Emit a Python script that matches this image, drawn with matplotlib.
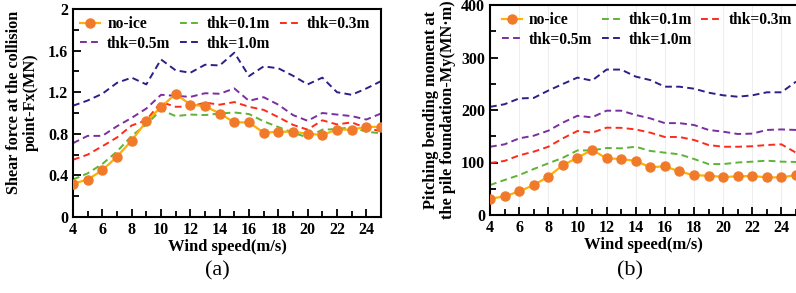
import matplotlib
matplotlib.use("Agg")
import matplotlib.pyplot as plt
from matplotlib.ticker import MultipleLocator

wind = list(range(4, 26))

# Panel (a): shear force Fx (MN)
fx_noice = [0.32, 0.36, 0.45, 0.58, 0.735, 0.92, 1.056, 1.185, 1.08, 1.066, 0.995, 0.91, 0.91,
            0.81, 0.82, 0.82, 0.80, 0.79, 0.84, 0.84, 0.867, 0.867]
fx_01 = [0.36, 0.42, 0.51, 0.63, 0.78, 0.89, 1.03, 0.97, 0.985, 0.98, 0.995, 1.005, 0.99,
         0.92, 0.865, 0.81, 0.765, 0.84, 0.845, 0.865, 0.82, 0.805]
fx_03 = [0.55, 0.60, 0.68, 0.765, 0.88, 0.93, 1.105, 1.06, 1.06, 1.10, 1.08, 1.105, 1.06,
         1.03, 0.96, 0.886, 0.84, 0.93, 0.89, 0.91, 0.855, 0.825]
fx_05 = [0.71, 0.78, 0.78, 0.873, 0.953, 1.043, 1.175, 1.165, 1.155, 1.19, 1.185, 1.236, 1.117,
         1.152, 1.08, 0.98, 0.925, 1.0, 0.985, 0.97, 0.937, 0.995]
fx_10 = [1.07, 1.12, 1.185, 1.29, 1.34, 1.275, 1.515, 1.41, 1.387, 1.464, 1.457, 1.58, 1.355,
         1.448, 1.43, 1.358, 1.275, 1.34, 1.20, 1.175, 1.236, 1.306]

# Panel (b): pitching bending moment My (MN·m)
my_noice = [31, 35.5, 45, 57, 73, 95, 109, 124, 108, 106.7, 103, 91, 92.7,
            83, 75.6, 75, 72.4, 73.6, 74.3, 71.7, 71.7, 76]
my_01 = [57, 66.7, 76, 87.6, 98.4, 109, 123, 123, 127.6, 127, 130, 122, 118.7,
         115.6, 106.7, 97, 97, 100, 101.6, 103.5, 101.6, 101]
my_03 = [99, 103, 113.6, 120.6, 130, 146, 160, 156.8, 166.3, 166, 163, 156.8, 148.6,
         148.6, 142.9, 133.3, 130, 130, 131, 133.3, 134.6, 118.7]
my_05 = [130, 134.6, 146, 151, 160.6, 176, 189, 186, 198.7, 198.7, 190.5, 184, 175,
         175, 171.4, 162, 158.7, 154.3, 155, 162, 163, 162]
my_10 = [206, 211, 222, 223, 237, 249.6, 261.7, 256, 277, 277, 263.6, 257, 244.4,
         244.4, 240.6, 233, 228, 225.3, 228, 233.7, 233.7, 254]

labels = ["no-ice", "thk=0.1m", "thk=0.3m", "thk=0.5m", "thk=1.0m"]
colors = ["#FFB000", "#5DB335", "#FF2A1A", "#7A2FA0", "#2B2088"]
marker_color = "#F07A2A"

serif = ["Liberation Serif", "DejaVu Serif"]
plt.rcParams["font.family"] = serif
plt.rcParams["font.weight"] = "bold"

fig = plt.figure(figsize=(7.96, 2.93), dpi=100)
axa = fig.add_axes([73/796, (293-217)/293, 308/796, 208/293])
axb = fig.add_axes([490/796, (293-215)/293, 306/796, 210/293])


def draw(ax, series, ylim, ymaj, ymin, ylabel, ytickfmt, ylsize, ylx, yly, legx):
    handles = []
    h, = ax.plot(wind, series[0], color=colors[0], lw=1.6, marker="o", ms=6.5,
                 mfc=marker_color, mec=marker_color, label=labels[0], zorder=5)
    handles.append(h)
    for s, c, l in zip(series[1:], colors[1:], labels[1:]):
        h, = ax.plot(wind, s, color=c, lw=1.4, ls=(0, (3.5, 2.2)), label=l)
        handles.append(h)
    ax.set_xlim(4, 25)
    ax.set_ylim(*ylim)
    ax.xaxis.set_major_locator(MultipleLocator(2))
    ax.xaxis.set_minor_locator(MultipleLocator(1))
    ax.yaxis.set_major_locator(MultipleLocator(ymaj))
    ax.yaxis.set_minor_locator(MultipleLocator(ymin))
    ax.tick_params(which="both", direction="in", width=1.3, labelsize=11.5,
                   top=False, right=False)
    ax.tick_params(which="major", length=6)
    ax.tick_params(which="minor", length=4)
    ax.yaxis.set_major_formatter(ytickfmt)
    for lab in ax.get_xticklabels() + ax.get_yticklabels():
        lab.set_fontweight("bold")
    for sp in ax.spines.values():
        sp.set_linewidth(1.5)
    ax.set_xlabel("Wind speed(m/s)", fontsize=12, fontweight="bold", labelpad=1)
    ax.set_ylabel(ylabel, fontsize=ylsize, fontweight="bold", linespacing=1.05)
    ax.yaxis.set_label_coords(ylx, yly)
    order = [0, 3, 1, 4, 2]
    ax.legend([handles[i] for i in order], [labels[i] for i in order],
              ncol=3, loc="upper left", frameon=False,
              prop={"weight": "bold", "size": 11.2, "family": serif},
              handlelength=1.3, handletextpad=0.45, columnspacing=0.6,
              labelspacing=0.25, borderaxespad=0.0, borderpad=0.45,
              bbox_to_anchor=(legx, 1.0))


def fmt_a(v, pos):
    if abs(v) < 1e-9:
        return "0"
    if abs(v - round(v)) < 1e-9:
        return "%d" % round(v)
    return "%.1f" % v


def fmt_b(v, pos):
    return "%d" % round(v)


draw(axa, [fx_noice, fx_01, fx_03, fx_05, fx_10], (0, 2), 0.4, 0.2,
     "Shear force at the collision\npoint-Fx(MN)", plt.FuncFormatter(fmt_a),
     11.7, -34/308, 0.55, 0.0)
draw(axb, [my_noice, my_01, my_03, my_05, my_10], (0, 400), 100, 50,
     "Pitching bending moment at\nthe pile foundation-My(MN·m)", plt.FuncFormatter(fmt_b),
     11.8, -34/306, 0.5, 0.015)
axb.grid(axis="x", which="major", color="#EEEEEE", lw=0.8)
axb.set_axisbelow(True)
axb.spines["right"].set_visible(False)

fig.text(217/796, 1 - 271/293, "(a)", ha="center", va="center", fontsize=16,
         fontweight="normal")
fig.text(630/796, 1 - 271/293, "(b)", ha="center", va="center", fontsize=16,
         fontweight="normal")

fig.savefig("out.png", dpi=100)
